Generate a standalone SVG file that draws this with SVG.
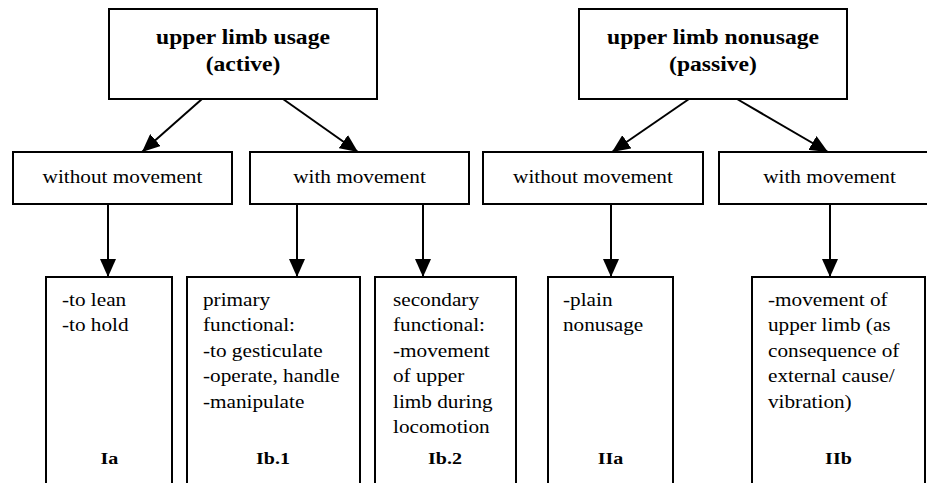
<svg xmlns="http://www.w3.org/2000/svg" width="927" height="483" viewBox="0 0 927 483">
<style>
rect{fill:#fff;stroke:#000;stroke-width:2}
text{fill:#000}
.t{font-size:20px;font-weight:bold;text-anchor:middle}
.m{font-size:18px;text-anchor:middle}
.b{font-size:18px}
.l{font-size:17px;font-weight:bold;text-anchor:middle}
#connectors line{stroke:#000;stroke-width:2}
</style>
<defs>
<marker id="ah" markerUnits="userSpaceOnUse" markerWidth="18" markerHeight="16" refX="18" refY="8" orient="auto">
<path d="M0,0 L18,8 L0,16 z" fill="#000"/>
</marker>
</defs>
<rect x="-5" y="-5" width="940" height="500" style="fill:#fff;stroke:none"/>
<g id="connectors">
<line x1="202" y1="99" x2="142" y2="152" marker-end="url(#ah)"/>
<line x1="283" y1="99" x2="358" y2="152" marker-end="url(#ah)"/>
<line x1="689" y1="99" x2="612" y2="152" marker-end="url(#ah)"/>
<line x1="737" y1="99" x2="828" y2="152" marker-end="url(#ah)"/>
<line x1="108" y1="205" x2="108" y2="277" marker-end="url(#ah)"/>
<line x1="297" y1="205" x2="297" y2="277" marker-end="url(#ah)"/>
<line x1="423" y1="205" x2="423" y2="277" marker-end="url(#ah)"/>
<line x1="611" y1="205" x2="611" y2="277" marker-end="url(#ah)"/>
<line x1="830" y1="205" x2="830" y2="277" marker-end="url(#ah)"/>
</g>
<g font-family="Liberation Serif, serif">
<g id="usage">
<rect x="109" y="9" width="268" height="90"/>
<g transform="scale(1.18 1)"><text class="t" x="205.93" y="44">upper limb usage</text><text class="t" x="205.93" y="71">(active)</text></g>
</g>
<g id="nonusage">
<rect x="579" y="9" width="268" height="90"/>
<g transform="scale(1.18 1)"><text class="t" x="604.24" y="44">upper limb nonusage</text><text class="t" x="604.24" y="71">(passive)</text></g>
</g>
<g id="I-without">
<rect x="13" y="152" width="219" height="52"/>
<g transform="scale(1.18 1)"><text class="m" x="103.81" y="183">without movement</text></g>
</g>
<g id="I-with">
<rect x="250" y="152" width="219" height="52"/>
<g transform="scale(1.18 1)"><text class="m" x="304.66" y="183">with movement</text></g>
</g>
<g id="II-without">
<rect x="483" y="152" width="220" height="52"/>
<g transform="scale(1.18 1)"><text class="m" x="502.54" y="183">without movement</text></g>
</g>
<g id="II-with">
<rect x="719" y="152" width="220" height="52"/>
<g transform="scale(1.18 1)"><text class="m" x="702.97" y="183">with movement</text></g>
</g>
<g id="Ia">
<rect x="46" y="277" width="126" height="220"/>
<g transform="scale(1.18 1)">
<text class="b" x="52.54" y="306">-to lean</text>
<text class="b" x="52.54" y="331.5">-to hold</text>
<text class="l" x="92.8" y="464">Ia</text>
</g>
</g>
<g id="Ib1">
<rect x="187" y="277" width="173" height="220"/>
<g transform="scale(1.18 1)">
<text class="b" x="172.03" y="306">primary</text>
<text class="b" x="172.03" y="331.5">functional:</text>
<text class="b" x="172.03" y="357">-to gesticulate</text>
<text class="b" x="172.03" y="382.5">-operate, handle</text>
<text class="b" x="172.03" y="408">-manipulate</text>
<text class="l" x="231.36" y="464">Ib.1</text>
</g>
</g>
<g id="Ib2">
<rect x="375" y="277" width="141" height="220"/>
<g transform="scale(1.18 1)">
<text class="b" x="333.05" y="306">secondary</text>
<text class="b" x="333.05" y="331.5">functional:</text>
<text class="b" x="333.05" y="357">-movement</text>
<text class="b" x="333.05" y="382.5">of upper</text>
<text class="b" x="333.05" y="408">limb during</text>
<text class="b" x="333.05" y="433.5">locomotion</text>
<text class="l" x="377.12" y="464">Ib.2</text>
</g>
</g>
<g id="IIa">
<rect x="548" y="277" width="125" height="220"/>
<g transform="scale(1.18 1)">
<text class="b" x="477.12" y="306">-plain</text>
<text class="b" x="477.12" y="331.5">nonusage</text>
<text class="l" x="517.37" y="464">IIa</text>
</g>
</g>
<g id="IIb">
<rect x="752" y="277" width="173" height="220"/>
<g transform="scale(1.18 1)">
<text class="b" x="650.85" y="306">-movement of</text>
<text class="b" x="650.85" y="331.5">upper limb (as</text>
<text class="b" x="650.85" y="357">consequence of</text>
<text class="b" x="650.85" y="382.5">external cause/</text>
<text class="b" x="650.85" y="408">vibration)</text>
<text class="l" x="710.59" y="464">IIb</text>
</g>
</g>
</g>
</svg>
